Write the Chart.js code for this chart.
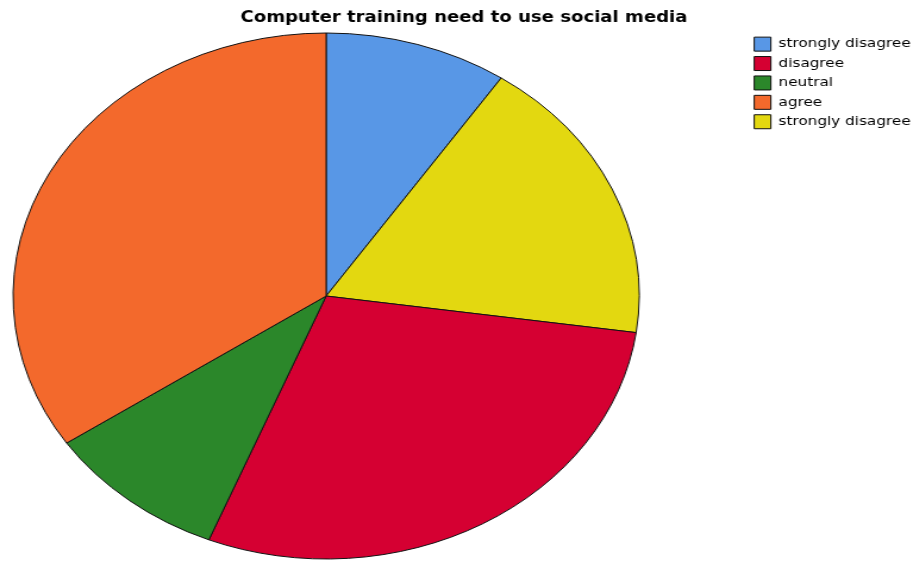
<!DOCTYPE html>
<html>
<head>
<meta charset="utf-8">
<title>Computer training need to use social media</title>
<script src="https://cdn.jsdelivr.net/npm/chart.js@4.4.0/dist/chart.umd.min.js"></script>
<style>
  html, body { margin: 0; padding: 0; background: #fff; overflow: hidden; }
  /* the chart is drawn on a narrower canvas and stretched wide, so the pie comes out oval */
  #wrap { width: 767px; height: 561px; transform: scaleX(1.1903); transform-origin: 0 0; }
</style>
</head>
<body>
<div id="wrap"><canvas id="my-chart"></canvas></div>
<script>
'use strict';

// answers, in legend order
let categories = ['strongly disagree', 'disagree', 'neutral', 'agree', 'strongly disagree'];
let counts = [17, 52, 17, 62, 32];
let colors = ['#5897e6', '#d50032', '#2b872a', '#f3692c', '#e3d810'];

// order the slices go round the pie, clockwise from 12 o'clock
let sliceOrder = [0, 4, 1, 2, 3];

let pieLabels = sliceOrder.map(i => categories[i]);
let pieValues = sliceOrder.map(i => counts[i]);
let pieColors = sliceOrder.map(i => colors[i]);

// puts the pie at a fixed spot, independent of where the legend lands
const pieBox = {
  id: 'pieBox',
  afterLayout(chart, args, opts) {
    let a = chart.chartArea;
    a.left = opts.cx - opts.r;
    a.right = opts.cx + opts.r;
    a.top = opts.cy - opts.r;
    a.bottom = opts.cy + opts.r;
    a.width = opts.r * 2;
    a.height = opts.r * 2;
  }
};

const ctx = document.getElementById('my-chart').getContext('2d');

new Chart(ctx, {
  type: 'pie',
  data: {
    labels: pieLabels,
    datasets: [{
      data: pieValues,
      backgroundColor: pieColors,
      borderColor: '#111',
      borderWidth: 1,
      hoverOffset: 0
    }]
  },
  options: {
    responsive: true,
    maintainAspectRatio: false,
    animation: false,
    layout: { padding: { left: 4.6, right: -8, top: 0, bottom: 0 } },
    plugins: {
      pieBox: { cx: 274, cy: 296, r: 263.5 },
      title: {
        display: true,
        text: 'Computer training need to use social media',
        color: '#000',
        font: { family: 'DejaVu Sans', size: 15.2, weight: 'bold' },
        padding: { top: 9, bottom: 4.5 }
      },
      legend: {
        position: 'right',
        align: 'start',
        fullSize: false,
        labels: {
          color: '#000',
          font: { family: 'DejaVu Sans', size: 12.8 },
          boxWidth: 14,
          boxHeight: 14,
          padding: 5.4,
          sort: (a, b) => sliceOrder[a.index] - sliceOrder[b.index]
        }
      },
      tooltip: { enabled: false }
    }
  },
  plugins: [pieBox]
});
</script>
</body>
</html>
